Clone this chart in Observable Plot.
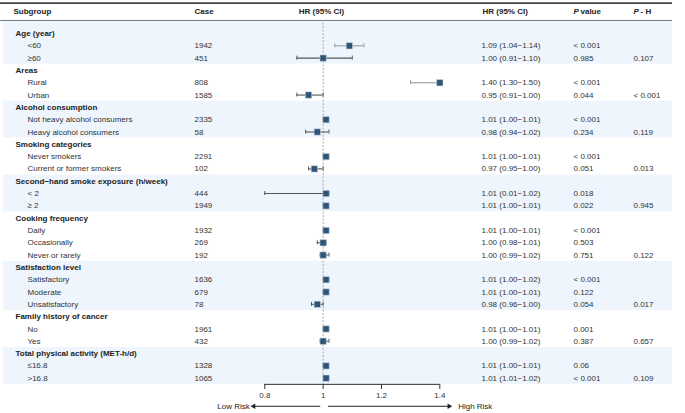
<!DOCTYPE html>
<html>
<head>
<meta charset="utf-8">
<script src="https://cdn.jsdelivr.net/npm/d3@7"></script>
<script src="https://cdn.jsdelivr.net/npm/@observablehq/plot@0.6"></script>
<style>
  html, body { margin: 0; padding: 0; background: #fff; }
  #chart svg { display: block; }
</style>
</head>
<body>
<div id="chart"></div>
<script>
// ---------- data ----------
const groupNames = ["Age (year)", "Areas", "Alcohol consumption", "Smoking categories",
  "Second\u2212hand smoke exposure (h/week)", "Cooking frequency", "Satisfaction level",
  "Family history of cancer", "Total physical activity (MET-h/d)"];
const groupSizes = [2, 2, 2, 2, 2, 3, 3, 2, 2];
const subLabels = ["<60", "\u226560", "Rural", "Urban", "Not heavy alcohol consumers", "Heavy alcohol consumers",
  "Never smokers", "Current or former smokers", "< 2", "\u2265 2", "Daily", "Occasionally", "Never or rarely",
  "Satisfactory", "Moderate", "Unsatisfactory", "No", "Yes", "\u226416.8", ">16.8"];
const cases = [1942, 451, 808, 1585, 2335, 58, 2291, 102, 444, 1949, 1932, 269, 192, 1636, 679, 78, 1961, 432, 1328, 1065];
const hr    = [1.09, 1.00, 1.40, 0.95, 1.01, 0.98, 1.01, 0.97, 1.01, 1.01, 1.01, 1.00, 1.00, 1.01, 1.01, 0.98, 1.01, 1.00, 1.01, 1.01];
const lower = [1.04, 0.91, 1.30, 0.91, 1.00, 0.94, 1.00, 0.95, 0.01, 1.00, 1.00, 0.98, 0.99, 1.00, 1.00, 0.96, 1.00, 0.99, 1.00, 1.01];
const upper = [1.14, 1.10, 1.50, 1.00, 1.01, 1.02, 1.01, 1.00, 1.02, 1.01, 1.01, 1.01, 1.02, 1.02, 1.01, 1.00, 1.01, 1.02, 1.01, 1.02];
const pValues = ["< 0.001", "0.985", "< 0.001", "0.044", "< 0.001", "0.234", "< 0.001", "0.051", "0.018", "0.022",
  "< 0.001", "0.503", "0.751", "< 0.001", "0.122", "0.054", "0.001", "0.387", "0.06", "< 0.001"];
const pHet = ["0.107", "< 0.001", "0.119", "0.013", "0.945", "0.122", "0.017", "0.657", "0.109"];
const xTicks = [0.8, 1, 1.2, 1.4];
const lowArrow = {from: 0.99, to: 0.762, label: "Low Risk"};
const highArrow = {from: 1.017, to: 1.432, label: "High Risk"};

// ---------- build table ----------
const rows = [];
const bands = [];
let i = 0, k = 0;
groupNames.forEach((g, gi) => {
  const start = i;
  rows.push({i: i++, label: g, header: true, gi});
  for (let j = 0; j < groupSizes[gi]; j++, k++) {
    rows.push({
      i: i++, label: subLabels[k], header: false, gi,
      cases: cases[k], hr: hr[k], lo: lower[k], hi: upper[k], p: pValues[k],
      ph: j === groupSizes[gi] - 1 ? pHet[gi] : ""
    });
  }
  bands.push({y1: gi === 0 ? -1.06 : start - 0.5, y2: i - 0.5, fill: gi % 2 === 0 ? "#eef5fd" : "#ffffff"});
});
const subs = rows.filter(d => !d.header);
const XMIN = 0.8, XMAX = 1.4;
const f2 = v => v.toFixed(2);
subs.forEach(d => {
  d.cl = Math.max(d.lo, XMIN);
  d.ch = Math.min(d.hi, XMAX);
  d.hrText = `${f2(d.hr)} (${f2(d.lo)}\u2212${f2(d.hi)})`;
  d.ciColor = d.p === "< 0.001" ? "#9b9b9b" : "#555555";
});

const HEAD_Y = -1.83, TOP_LINE = -2.46, HEAD_LINE = -1.06, ARROW_Y = 30.28;
const headers = [
  {t: "Subgroup", dx: 13, anchor: "start", italic: false},
  {t: "Case", dx: 194, anchor: "start", italic: false},
  {t: "HR (95% CI)", dx: 321, anchor: "middle", italic: false},
  {t: "HR (95% CI)", dx: 482, anchor: "start", italic: false},
  {t: "P", dx: 573, anchor: "start", italic: true},
  {t: "value", dx: 580, anchor: "start", italic: false},
  {t: "P", dx: 633, anchor: "start", italic: true},
  {t: "- H", dx: 640, anchor: "start", italic: false}
];

const txt = "#222";
const headerMarks = headers.map(h => Plot.text([h], {
  text: "t", frameAnchor: "left", dx: h.dx, y: HEAD_Y, textAnchor: h.anchor,
  fontWeight: "bold", fontStyle: h.italic ? "italic" : "normal", fill: txt
}));
const arrowMarks = [lowArrow, highArrow].flatMap(a => {
  const right = a.to > 1;
  return [
    Plot.link([a], {x1: "from", x2: "to", y1: ARROW_Y, y2: ARROW_Y, stroke: "#222", strokeWidth: 1}),
    Plot.dot([a], {x: "to", y: ARROW_Y, symbol: "triangle", r: 2, fill: "#222", rotate: right ? 90 : -90}),
    Plot.text([a], {x: "to", y: ARROW_Y, dx: right ? 9 : -4, text: "label", textAnchor: right ? "start" : "end", fill: "#222"})
  ];
});

const chart = Plot.plot({
  width: 685,
  height: 413,
  marginLeft: 0, marginRight: 0, marginTop: 0, marginBottom: 29,
  style: {fontFamily: "'Liberation Sans', Arial, sans-serif", fontSize: "8px", color: "#222", background: "#fff"},
  x: {domain: [XMIN, XMAX], range: [264.3, 439.3]},
  y: {domain: [0, 28], range: [33, 377.7]},
  marks: [
    Plot.rect(bands, {y1: "y1", y2: "y2", fill: "fill", insetLeft: 3, insetRight: 13}),
    Plot.ruleY([TOP_LINE], {stroke: "#444", strokeWidth: 1.8, insetLeft: 0, insetRight: 13}),
    Plot.ruleY([HEAD_LINE], {stroke: "#555", strokeWidth: 0.8, insetLeft: 0, insetRight: 13}),
    Plot.ruleX([1], {y1: -0.85, y2: 28.5, stroke: "#a8a8a8", strokeWidth: 1, strokeDasharray: "2,1.5"}),
    // CI lines and caps
    Plot.ruleY(subs, {y: "i", x1: "cl", x2: "ch", stroke: d => d.ciColor, strokeWidth: 1.1}),
    Plot.ruleX(subs, {x: "cl", y1: d => d.i - 0.16, y2: d => d.i + 0.16, stroke: d => d.ciColor, strokeWidth: 1}),
    Plot.ruleX(subs, {x: "ch", y1: d => d.i - 0.16, y2: d => d.i + 0.16, stroke: d => d.ciColor, strokeWidth: 1}),
    Plot.dot(subs, {x: "hr", y: "i", symbol: "square", r: 3.6, fill: "#2e5478", stroke: "#c9d6e4", strokeWidth: 0.6}),
    // headers
    ...headerMarks,
    // table columns
    Plot.text(rows.filter(d => d.header), {y: "i", text: "label", frameAnchor: "left", dx: 15, fontWeight: "bold", fill: txt}),
    Plot.text(subs, {y: "i", text: "label", frameAnchor: "left", dx: 27, fill: "#333"}),
    Plot.text(subs, {y: "i", text: d => String(d.cases), frameAnchor: "left", dx: 194, fill: "#333"}),
    Plot.text(subs, {y: "i", text: "hrText", frameAnchor: "left", dx: 481, fill: "#333"}),
    Plot.text(subs, {y: "i", text: "p", frameAnchor: "left", dx: 573, fill: "#333"}),
    Plot.text(subs, {y: "i", text: "ph", frameAnchor: "left", dx: 633, fill: "#333"}),
    // x axis
    Plot.ruleY([28.5], {x1: XMIN, x2: XMAX, stroke: "#333", strokeWidth: 1}),
    Plot.axisX({ticks: xTicks, tickFormat: d => String(d), tickSize: 5, tickPadding: 3, anchor: "bottom", stroke: "#333", fill: "#333", fontSize: 8, label: null}),
    // risk arrows
    ...arrowMarks
  ]
});
document.getElementById("chart").appendChild(chart);
</script>
</body>
</html>
